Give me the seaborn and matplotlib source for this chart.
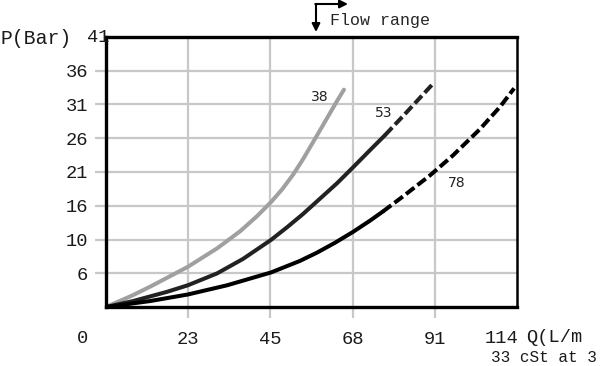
import numpy as np
import pandas as pd
import matplotlib
matplotlib.use("Agg")
import matplotlib.pyplot as plt
import seaborn as sns

# flow (L/min) vs pressure (bar)
q38 = [0, 7.5, 13.0, 22.7, 30.8, 37.2, 41.9, 45.8, 48.9, 51.9, 54.6, 57.4, 60.7, 64.1, 66.0]
p38 = [0, 1.8, 3.3, 6.1, 8.9, 11.5, 13.8, 15.95, 17.9, 20.1, 22.4, 25.0, 28.1, 31.3, 33.0]

q53_solid = [0, 7.5, 16.9, 22.7, 30.8, 38.0, 45.8, 50.2, 54.6, 64.1, 68.5, 73.2, 77.4]
p53_solid = [0, 0.9, 2.3, 3.3, 5.1, 7.3, 10.2, 12.1, 14.1, 18.8, 21.2, 23.8, 26.1]
q53_dash = [77.4, 82.4, 89.0, 90.7]
p53_dash = [26.1, 29.0, 32.9, 33.9]

q78_solid = [0, 12.2, 22.7, 33.6, 45.8, 53.8, 58.5, 63.5, 68.5, 73.2, 76.8]
p78_solid = [0, 0.9, 1.9, 3.3, 5.25, 7.0, 8.25, 9.75, 11.4, 13.1, 14.5]
q78_dash = [76.8, 82.4, 89.9, 96.2, 103.7, 109.3, 113.2]
p78_dash = [14.5, 16.8, 20.0, 23.0, 27.0, 30.4, 33.2]

x_ticks = [22.8, 45.6, 68.4, 91.2]
x_labels = ["23", "45", "68", "91"]
y_ticks = [41 * i / 8 for i in range(1, 8)]
y_labels = ["6", "10", "16", "21", "26", "31", "36"]

sns.set_style("white")
plt.rcParams["font.family"] = ["Liberation Mono", "DejaVu Sans"]

fig = plt.figure(figsize=(6, 3.66), dpi=100)
ax = fig.add_axes([106 / 600, 59 / 366, 411 / 600, 270 / 366])

grey = "#c8c8c8"
lw = 2.9
dash = (2.6, 1.0)
sns.lineplot(x=q38, y=p38, ax=ax, color="#a0a0a0", lw=lw, sort=False, estimator=None)
sns.lineplot(x=q53_solid, y=p53_solid, ax=ax, color="#222222", lw=lw, sort=False, estimator=None)
sns.lineplot(x=q53_dash, y=p53_dash, ax=ax, color="#222222", lw=lw, sort=False,
             estimator=None).lines[-1].set_dashes(dash)
sns.lineplot(x=q78_solid, y=p78_solid, ax=ax, color="black", lw=lw, sort=False, estimator=None)
sns.lineplot(x=q78_dash, y=p78_dash, ax=ax, color="black", lw=lw, sort=False,
             estimator=None).lines[-1].set_dashes(dash)
for line in ax.lines:
    line.set_solid_joinstyle("round")
    line.set_dash_joinstyle("round")

ax.set_xlim(0, 114)
ax.set_ylim(0, 41)
ax.set_xticks(x_ticks, labels=x_labels)
ax.set_yticks(y_ticks, labels=y_labels)
ax.grid(True, color=grey, lw=1.6)
ax.tick_params(axis="both", colors=grey, length=8, width=1.6, labelcolor="#1a1a1a",
               labelsize=13.5)
ax.tick_params(axis="x", pad=9)
ax.tick_params(axis="y", pad=5)
ax.tick_params(left=True, bottom=True)
for side in ["left", "bottom", "top"]:
    ax.spines[side].set_linewidth(2.4)
    ax.spines[side].set_color("black")
ax.spines["right"].set_linewidth(1.8)
ax.spines["right"].set_color("black")
ax.set_xlabel("")
ax.set_ylabel("")

# curve labels
for txt, qx, py in [("38", 59.4, 31.9), ("53", 77.1, 29.5), ("78", 97.4, 18.8)]:
    ax.text(qx, py, txt, fontsize=10, family="DejaVu Sans", color="#222222",
            ha="center", va="center")

# axis texts outside the plot
ax.text(-6.4, -0.115, "0", transform=ax.get_xaxis_transform(), fontsize=13.5,
        ha="center", va="center", color="#1a1a1a")
ax.text(109.8, -0.115, "114", transform=ax.get_xaxis_transform(), fontsize=13.5,
        ha="center", va="center", color="#1a1a1a")
fig.text(526 / 600, 1 - 337 / 366, "Q(L/m", fontsize=13.5, ha="left", va="center", color="#1a1a1a")
fig.text(491 / 600, 1 - 357 / 366, "33 cSt at 3", fontsize=11.5, ha="left", va="center", color="#1a1a1a")
fig.text(0 / 600, 1 - 38 / 366, "P(Bar)", fontsize=14.2, ha="left", va="center", color="#1a1a1a")
fig.text(87 / 600, 1 - 38 / 366, "41", fontsize=13.5, ha="left", va="center", color="#1a1a1a")

# flow range marker
fig.text(330 / 600, 1 - 21 / 366, "Flow range", fontsize=12, ha="left", va="center")
ax.annotate("", xy=(316, 366 - 32), xytext=(316, 366 - 4), xycoords="figure pixels",
            textcoords="figure pixels",
            arrowprops=dict(arrowstyle="-|>", color="black", lw=1.5, mutation_scale=12,
                            shrinkA=0, shrinkB=0))
ax.annotate("", xy=(348, 366 - 4), xytext=(315.3, 366 - 4), xycoords="figure pixels",
            textcoords="figure pixels",
            arrowprops=dict(arrowstyle="-|>", color="black", lw=1.5, mutation_scale=12,
                            shrinkA=0, shrinkB=0))

fig.savefig("out.png", dpi=100)
